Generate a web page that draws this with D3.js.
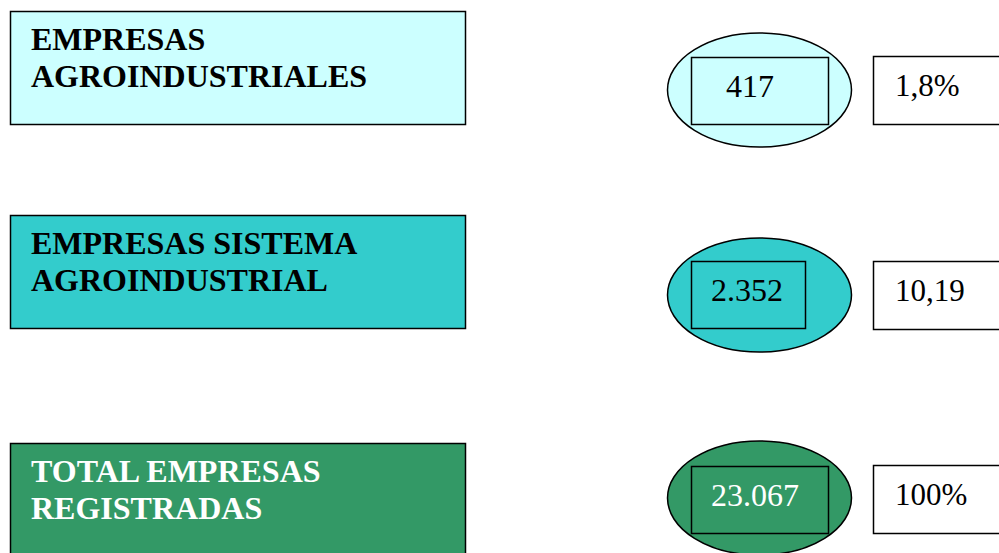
<!DOCTYPE html>
<html><head><meta charset="utf-8">
<script src="https://cdn.jsdelivr.net/npm/d3@7"></script>
<style>html,body{margin:0;padding:0;background:#fff;overflow:hidden}</style>
</head><body>
<svg id="c" width="999" height="553"></svg>
<script>
const categories = ["EMPRESAS AGROINDUSTRIALES", "EMPRESAS SISTEMA AGROINDUSTRIAL", "TOTAL EMPRESAS REGISTRADAS"];
const labelLines = [["EMPRESAS","AGROINDUSTRIALES"],["EMPRESAS SISTEMA","AGROINDUSTRIAL"],["TOTAL EMPRESAS","REGISTRADAS"]];
const values = ["417","2.352","23.067"];
const shares = ["1,8%","10,19","100%"];
const fills = ["#ccffff","#33cccc","#339966"];
const textColors = ["#000000","#000000","#ffffff"];

const svg = d3.select("#c");
const idx = d3.range(categories.length);
// row positions via ordinal scales
const rowTop = d3.scaleOrdinal().domain(idx).range([11, 215, 443]);
const ellCy = d3.scaleOrdinal().domain(idx).range([90, 295, 498]);
const innerTop = d3.scaleOrdinal().domain(idx).range([57, 261, 466]);
const innerW = d3.scaleOrdinal().domain(idx).range([137, 114, 137]);
const valueX = d3.scaleOrdinal().domain(idx).range([726, 711, 711]);
const shareTop = d3.scaleOrdinal().domain(idx).range([56, 261, 465]);

const font = "'Liberation Serif','Times New Roman',serif";

const g = svg.selectAll("g.row").data(idx).join("g").attr("class","row");

g.append("rect").attr("x",10.5).attr("y",d=>rowTop(d)+0.5).attr("width",455).attr("height",113)
 .attr("fill",d=>fills[d]).attr("stroke","#000").attr("stroke-width",1.5);

g.each(function(d){
  const sel = d3.select(this);
  labelLines[d].forEach((ln,i)=>{
    sel.append("text").attr("x",31).attr("y",rowTop(d)+39+i*37)
      .attr("font-family",font).attr("font-weight","bold").attr("font-size",32)
      .attr("fill",textColors[d]).text(ln);
  });
});

g.append("ellipse").attr("cx",759.5).attr("cy",d=>ellCy(d)).attr("rx",92).attr("ry",57)
 .attr("fill",d=>fills[d]).attr("stroke","#000").attr("stroke-width",1.5);

g.append("rect").attr("x",691.5).attr("y",d=>innerTop(d)+0.5).attr("width",d=>innerW(d)).attr("height",67)
 .attr("fill",d=>fills[d]).attr("stroke","#000").attr("stroke-width",1.5);

g.append("text").attr("x",d=>valueX(d)).attr("y",d=>innerTop(d)+40)
 .attr("font-family",font).attr("font-size",32).attr("fill",d=>textColors[d]).text(d=>values[d]);

g.append("rect").attr("x",873.5).attr("y",d=>shareTop(d)+0.5).attr("width",140).attr("height",68)
 .attr("fill","#fff").attr("stroke","#000").attr("stroke-width",1.5);

g.append("text").attr("x",895).attr("y",d=>shareTop(d)+40)
 .attr("font-family",font).attr("font-size",31).attr("fill","#000").text(d=>shares[d]);
</script>
</body></html>
